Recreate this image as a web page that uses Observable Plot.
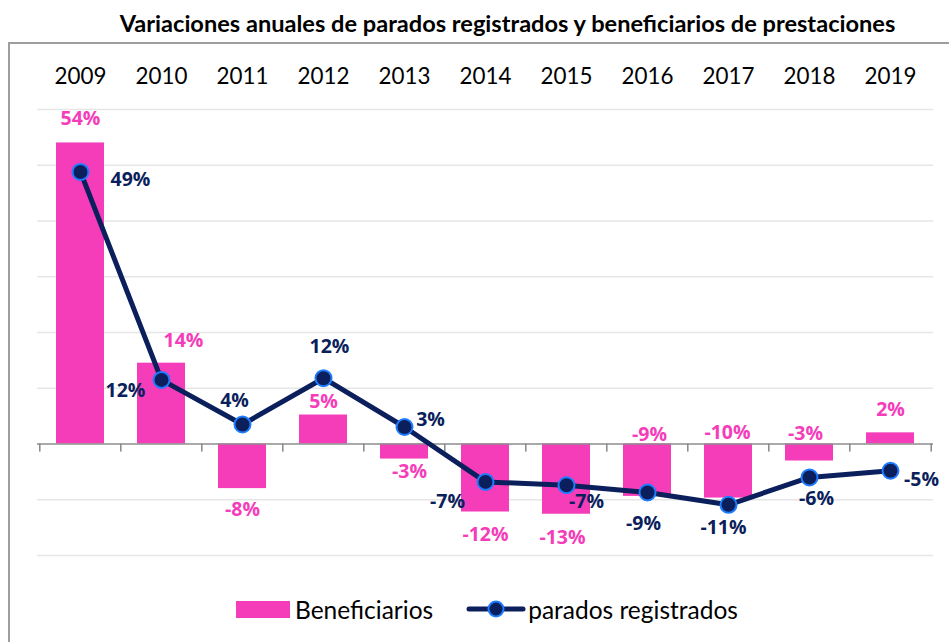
<!DOCTYPE html>
<html>
<head>
<meta charset="utf-8">
<script src="https://cdn.jsdelivr.net/npm/d3@7"></script>
<script src="https://cdn.jsdelivr.net/npm/@observablehq/plot@0.6"></script>
<style>
  html, body { margin: 0; padding: 0; background: #fff; }
  #fig { position: relative; width: 949px; height: 642px; overflow: hidden; font-family: Lato, sans-serif; }
  #title { position: absolute; left: 0; top: 9px; width: 949px; box-sizing: border-box; padding-left: 66px; text-align: center; font: 700 23.6px Lato, sans-serif; color: #000; white-space: nowrap; }
  #box { position: absolute; left: 8px; top: 42px; width: 1000px; height: 700px; border-left: 2px solid #9e9e9e; border-top: 2px solid #9e9e9e; box-sizing: border-box; }
  #chart { position: absolute; left: 0; top: 42px; }
  #legend { position: absolute; left: 236px; top: 596px; height: 26px; display: flex; align-items: center; font: 400 24.5px Lato, sans-serif; color: #000; }
  #legend .sw { display: block; }
</style>
</head>
<body>
<div id="fig">
  <div id="title">Variaciones anuales de parados registrados y beneficiarios de prestaciones</div>
  <div id="box"></div>
  <div id="chart"></div>
  <div id="legend"></div>
</div>
<script>
// ---- data ----
const years = ["2009","2010","2011","2012","2013","2014","2015","2016","2017","2018","2019"];
const beneficiarios = [54.0, 14.5, -8.0, 5.2, -2.7, -12.2, -12.6, -9.4, -9.7, -3.05, 2.0];
const parados = [48.8, 11.5, 3.5, 11.8, 3.05, -6.8, -7.4, -8.7, -10.9, -6.0, -4.8];
const beneficiariosLabels = ["54%","14%","-8%","5%","-3%","-12%","-13%","-9%","-10%","-3%","2%"];
const paradosLabels = ["49%","12%","4%","12%","3%","-7%","-7%","-9%","-11%","-6%","-5%"];
const yTicks = [-20, -10, 10, 20, 30, 40, 50, 60];

// label nudges (pixels) relative to bar end / point
const benefNudge = [[0,-24],[22,-22],[0,21],[0,-13],[5,13],[0,23],[-4,24],[2,-62],[-1,-65],[-4,-27],[0,-23]];
const paradosNudge = [[50,8],[-36,11],[-8,-24],[6,-31],[26,-7],[-38,20],[20,16],[-4,31],[-5,23],[7,21],[31,9]];

const PINK = "#F53DBA";
const NAVY = "#0B1F5C";
const BLUE = "#1E7CFF";

const data = years.map((y, i) => ({year: y, benef: beneficiarios[i], parados: parados[i]}));

const W = 949, H = 540, ML = 37, MR = 16, MT = 67, MB = 27;
const step = (W - ML - MR) / years.length;

const labelFont = "'Open Sans', sans-serif";
const labelSize = 19.5;

const benefLabelMarks = data.map((d, i) => Plot.text([d], {
  x: "year", y: "benef", text: () => beneficiariosLabels[i],
  dx: benefNudge[i][0], dy: benefNudge[i][1],
  fill: PINK, fontSize: labelSize, fontWeight: 700, fontFamily: labelFont, lineAnchor: "middle"
}));
const paradosLabelMarks = data.map((d, i) => Plot.text([d], {
  x: "year", y: "parados", text: () => paradosLabels[i],
  dx: paradosNudge[i][0], dy: paradosNudge[i][1],
  fill: NAVY, fontSize: labelSize, fontWeight: 700, fontFamily: labelFont, lineAnchor: "middle"
}));

const chart = Plot.plot({
  width: W, height: H,
  marginLeft: ML, marginRight: MR, marginTop: MT, marginBottom: MB,
  x: {type: "band", domain: years, paddingInner: 0.41, paddingOuter: 0.205, axis: null},
  y: {domain: [-20, 60], axis: null},
  style: {background: "transparent", overflow: "visible"},
  marks: [
    Plot.gridY(yTicks, {stroke: "#e6e6e6", strokeOpacity: 1, strokeWidth: 1.5}),
    Plot.barY(data, {x: "year", y: "benef", fill: PINK}),
    Plot.ruleY([0], {stroke: "#8c8c8c", strokeWidth: 1.6}),
    Plot.ruleX(years, {x: d => d, y1: 0, y2: -1.45, dx: -step / 2, stroke: "#8c8c8c", strokeWidth: 1.6}),
    Plot.ruleX([years[years.length - 1]], {x: d => d, y1: 0, y2: -1.45, dx: step / 2, stroke: "#8c8c8c", strokeWidth: 1.6}),
    Plot.line(data, {x: "year", y: "parados", stroke: NAVY, strokeWidth: 5, strokeLinejoin: "round"}),
    Plot.dot(data, {x: "year", y: "parados", r: 8, fill: NAVY, stroke: BLUE, strokeWidth: 2}),
    ...benefLabelMarks,
    ...paradosLabelMarks,
    Plot.text(years, {x: d => d, frameAnchor: "top", dy: -33, text: d => d, fontSize: 22.4, fontFamily: "Lato, sans-serif", fill: "#000", lineAnchor: "middle"})
  ]
});
document.getElementById("chart").appendChild(chart);

// legend
const legend = document.getElementById("legend");
legend.innerHTML = `
  <svg class="sw" width="54" height="17"><rect width="54" height="17" fill="${PINK}"/></svg>
  <span style="margin-left:5px">Beneficiarios</span>
  <svg class="sw" width="60" height="20" style="margin-left:33px"><line x1="3" y1="10" x2="57" y2="10" stroke="${NAVY}" stroke-width="5" stroke-linecap="round"/><circle cx="30" cy="10" r="7.5" fill="${NAVY}" stroke="${BLUE}" stroke-width="2"/></svg>
  <span style="margin-left:2px">parados registrados</span>`;
</script>
</body>
</html>
